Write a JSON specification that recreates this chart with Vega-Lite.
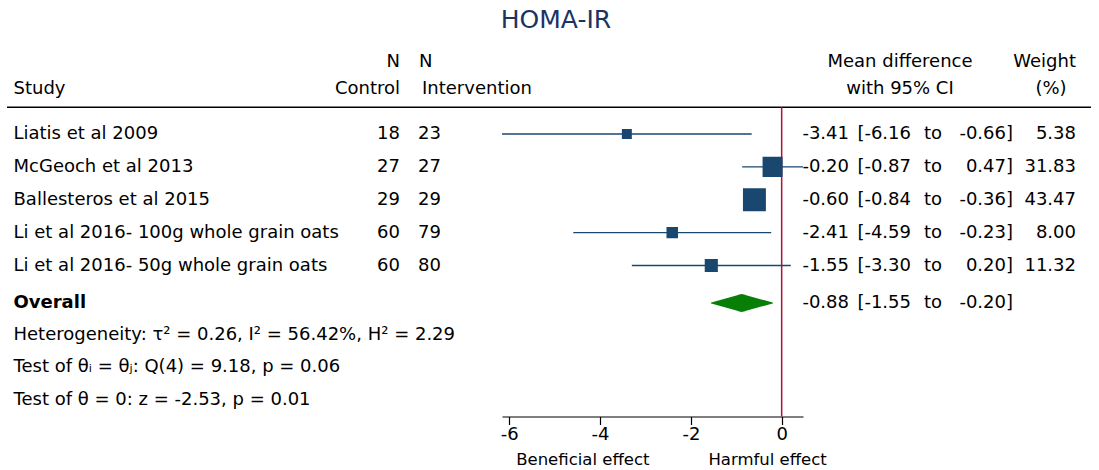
{
  "$schema": "https://vega.github.io/schema/vega-lite/v6.json",
  "background": "white",
  "padding": {"left": 6, "top": 8, "right": 9, "bottom": 0},
  "title": {"text": "HOMA-IR", "font": "DejaVu Sans", "fontSize": 25, "fontWeight": "normal", "color": "#1c3263", "anchor": "middle", "dx": 7, "offset": 10},
  "config": {
    "view": {"stroke": null},
    "font": "DejaVu Sans",
    "text": {"font": "DejaVu Sans", "fontSize": 18, "baseline": "middle", "color": "black"},
    "locale": {"number": {"decimal": ".", "thousands": ",", "grouping": [3], "currency": ["$", ""], "minus": "-"}}
  },
  "datasets": {
    "studies": [
      {"row": 1, "study": "Liatis et al 2009", "nc": 18, "ni": 23, "es": -3.41, "lo": -6.16, "hi": -0.66, "w": 5.38},
      {"row": 2, "study": "McGeoch et al 2013", "nc": 27, "ni": 27, "es": -0.20, "lo": -0.87, "hi": 0.47, "w": 31.83},
      {"row": 3, "study": "Ballesteros et al 2015", "nc": 29, "ni": 29, "es": -0.60, "lo": -0.84, "hi": -0.36, "w": 43.47},
      {"row": 4, "study": "Li et al 2016- 100g whole grain oats", "nc": 60, "ni": 79, "es": -2.41, "lo": -4.59, "hi": -0.23, "w": 8.00},
      {"row": 5, "study": "Li et al 2016- 50g whole grain oats", "nc": 60, "ni": 80, "es": -1.55, "lo": -3.30, "hi": 0.20, "w": 11.32}
    ],
    "overall": [
      {"row": 6, "study": "Overall", "es": -0.88, "lo": -1.55, "hi": -0.20}
    ],
    "notes": [
      {"row": 7, "note": "Heterogeneity: τ² = 0.26, I² = 56.42%, H² = 2.29"},
      {"row": 8, "note": "Test of θᵢ = θⱼ: Q(4) = 9.18, p = 0.06"},
      {"row": 9, "note": "Test of θ = 0: z = -2.53, p = 0.01"}
    ]
  },
  "spacing": 0,
  "bounds": "flush",
  "hconcat": [
    {
      "width": 393,
      "height": 373.5,
      "layer": [
        {"data": {"values": [{}]}, "mark": {"type": "rule", "color": "black", "strokeWidth": 1.5},
         "encoding": {"x": {"datum": 0, "scale": {"domain": [0, 1]}, "axis": null}, "x2": {"datum": 1},
                      "y": {"datum": 0.41, "axis": null, "scale": {"domain": [-1, 0, 1, 5, 6, 9], "range": [19.2, 45.8, 91, 222.5, 260, 356.5], "zero": false, "nice": false}}}},
        {"data": {"values": [{}]}, "mark": {"type": "text", "text": "Study", "align": "left", "dx": 6.5},
         "encoding": {"x": {"datum": 0, "scale": {"domain": [0, 1]}, "axis": null},
                      "y": {"datum": 0, "axis": null, "scale": {"domain": [-1, 0, 1, 5, 6, 9], "range": [19.2, 45.8, 91, 222.5, 260, 356.5], "zero": false, "nice": false}}}},
        {"data": {"values": [{}]}, "mark": {"type": "text", "text": "N", "align": "right"},
         "encoding": {"x": {"datum": 1, "scale": {"domain": [0, 1]}, "axis": null},
                      "y": {"datum": -1, "axis": null, "scale": {"domain": [-1, 0, 1, 5, 6, 9], "range": [19.2, 45.8, 91, 222.5, 260, 356.5], "zero": false, "nice": false}}}},
        {"data": {"values": [{}]}, "mark": {"type": "text", "text": "Control", "align": "right"},
         "encoding": {"x": {"datum": 1, "scale": {"domain": [0, 1]}, "axis": null},
                      "y": {"datum": 0, "axis": null, "scale": {"domain": [-1, 0, 1, 5, 6, 9], "range": [19.2, 45.8, 91, 222.5, 260, 356.5], "zero": false, "nice": false}}}},
        {"data": {"name": "studies"}, "mark": {"type": "text", "align": "left", "dx": 6.5},
         "encoding": {"x": {"datum": 0, "scale": {"domain": [0, 1]}, "axis": null},
                      "y": {"field": "row", "type": "quantitative", "axis": null, "scale": {"domain": [-1, 0, 1, 5, 6, 9], "range": [19.2, 45.8, 91, 222.5, 260, 356.5], "zero": false, "nice": false}},
                      "text": {"field": "study"}}},
        {"data": {"name": "studies"}, "mark": {"type": "text", "align": "right"},
         "encoding": {"x": {"datum": 1, "scale": {"domain": [0, 1]}, "axis": null},
                      "y": {"field": "row", "type": "quantitative", "axis": null, "scale": {"domain": [-1, 0, 1, 5, 6, 9], "range": [19.2, 45.8, 91, 222.5, 260, 356.5], "zero": false, "nice": false}},
                      "text": {"field": "nc"}}},
        {"data": {"name": "overall"}, "mark": {"type": "text", "align": "left", "dx": 6.5, "fontWeight": "bold"},
         "encoding": {"x": {"datum": 0, "scale": {"domain": [0, 1]}, "axis": null},
                      "y": {"field": "row", "type": "quantitative", "axis": null, "scale": {"domain": [-1, 0, 1, 5, 6, 9], "range": [19.2, 45.8, 91, 222.5, 260, 356.5], "zero": false, "nice": false}},
                      "text": {"field": "study"}}},
        {"data": {"name": "notes"}, "mark": {"type": "text", "align": "left", "dx": 6.5},
         "encoding": {"x": {"datum": 0, "scale": {"domain": [0, 1]}, "axis": null},
                      "y": {"field": "row", "type": "quantitative", "axis": null, "scale": {"domain": [-1, 0, 1, 5, 6, 9], "range": [19.2, 45.8, 91, 222.5, 260, 356.5], "zero": false, "nice": false}},
                      "text": {"field": "note"}}}
      ]
    },
    {
      "width": 102,
      "height": 373.5,
      "layer": [
        {"data": {"values": [{}]}, "mark": {"type": "rule", "color": "black", "strokeWidth": 1.5},
         "encoding": {"x": {"datum": 0, "scale": {"domain": [0, 1]}, "axis": null}, "x2": {"datum": 1},
                      "y": {"datum": 0.41, "axis": null, "scale": {"domain": [-1, 0, 1, 5, 6, 9], "range": [19.2, 45.8, 91, 222.5, 260, 356.5], "zero": false, "nice": false}}}},
        {"data": {"values": [{}]}, "mark": {"type": "text", "text": "N", "align": "left", "dx": 19},
         "encoding": {"x": {"datum": 0, "scale": {"domain": [0, 1]}, "axis": null},
                      "y": {"datum": -1, "axis": null, "scale": {"domain": [-1, 0, 1, 5, 6, 9], "range": [19.2, 45.8, 91, 222.5, 260, 356.5], "zero": false, "nice": false}}}},
        {"data": {"values": [{}]}, "mark": {"type": "text", "text": "Intervention", "align": "left", "dx": 22},
         "encoding": {"x": {"datum": 0, "scale": {"domain": [0, 1]}, "axis": null},
                      "y": {"datum": 0, "axis": null, "scale": {"domain": [-1, 0, 1, 5, 6, 9], "range": [19.2, 45.8, 91, 222.5, 260, 356.5], "zero": false, "nice": false}}}},
        {"data": {"name": "studies"}, "mark": {"type": "text", "align": "left", "dx": 18},
         "encoding": {"x": {"datum": 0, "scale": {"domain": [0, 1]}, "axis": null},
                      "y": {"field": "row", "type": "quantitative", "axis": null, "scale": {"domain": [-1, 0, 1, 5, 6, 9], "range": [19.2, 45.8, 91, 222.5, 260, 356.5], "zero": false, "nice": false}},
                      "text": {"field": "ni"}}}
      ]
    },
    {
      "width": 301,
      "height": 373.5,
      "resolve": {"scale": {"size": "independent"}},
      "layer": [
        {"data": {"values": [{}]}, "mark": {"type": "rule", "color": "black", "strokeWidth": 1.5},
         "encoding": {
           "x": {"datum": -6.16, "scale": {"domain": [-6.16, 0.47], "zero": false, "nice": false},
                 "axis": {"values": [-6, -4, -2, 0], "title": null, "grid": false, "domainColor": "black", "domainWidth": 1.2, "tickColor": "black", "tickWidth": 1.2, "tickSize": 8, "labelFont": "DejaVu Sans", "labelFontSize": 18, "labelColor": "black", "labelPadding": 1, "labelFlush": false, "labelOverlap": false}},
           "x2": {"datum": 0.47},
           "y": {"datum": 0.41, "axis": null, "scale": {"domain": [-1, 0, 1, 5, 6, 9], "range": [19.2, 45.8, 91, 222.5, 260, 356.5], "zero": false, "nice": false}}}},
        {"data": {"values": [{}]}, "mark": {"type": "rule", "color": "#b0103a", "strokeWidth": 1.5},
         "encoding": {"x": {"datum": 0},
                      "y": {"datum": 0.41, "axis": null, "scale": {"domain": [-1, 0, 1, 5, 6, 9], "range": [19.2, 45.8, 91, 222.5, 260, 356.5], "zero": false, "nice": false}},
                      "y2": {"datum": 9.53}}},
        {"data": {"name": "studies"}, "mark": {"type": "rule", "color": "#1a476f", "strokeWidth": 1.3},
         "encoding": {"x": {"field": "lo", "type": "quantitative"}, "x2": {"field": "hi"},
                      "y": {"field": "row", "type": "quantitative", "axis": null, "scale": {"domain": [-1, 0, 1, 5, 6, 9], "range": [19.2, 45.8, 91, 222.5, 260, 356.5], "zero": false, "nice": false}}}},
        {"data": {"name": "studies"}, "mark": {"type": "square", "color": "#1a476f", "filled": true, "opacity": 1, "stroke": "#1a476f", "strokeWidth": 2.9, "strokeJoin": "miter"},
         "encoding": {"x": {"field": "es", "type": "quantitative"},
                      "y": {"field": "row", "type": "quantitative", "axis": null, "scale": {"domain": [-1, 0, 1, 5, 6, 9], "range": [19.2, 45.8, 91, 222.5, 260, 356.5], "zero": false, "nice": false}},
                      "size": {"field": "w", "type": "quantitative", "scale": {"domain": [0, 50], "range": [0, 462]}, "legend": null}}},
        {"data": {"name": "overall"},
         "transform": [
           {"fold": ["lo", "es", "hi"], "as": ["pt", "v"]},
           {"calculate": "datum.pt === 'es' ? 1 : 0", "as": "half"}
         ],
         "mark": {"type": "trail", "color": "#077f07"},
         "encoding": {"x": {"field": "v", "type": "quantitative"},
                      "y": {"field": "row", "type": "quantitative", "axis": null, "scale": {"domain": [-1, 0, 1, 5, 6, 9], "range": [19.2, 45.8, 91, 222.5, 260, 356.5], "zero": false, "nice": false}},
                      "order": {"field": "v", "type": "quantitative"},
                      "size": {"field": "half", "type": "quantitative", "scale": {"domain": [0, 1], "range": [0, 18]}, "legend": null}}},
        {"data": {"values": [{}]}, "mark": {"type": "text", "text": "Beneficial effect", "align": "center", "fontSize": 16.5},
         "encoding": {"x": {"datum": -4.38},
                      "y": {"datum": 10.87, "axis": null, "scale": {"domain": [-1, 0, 1, 5, 6, 9], "range": [19.2, 45.8, 91, 222.5, 260, 356.5], "zero": false, "nice": false}}}},
        {"data": {"values": [{}]}, "mark": {"type": "text", "text": "Harmful effect", "align": "center", "fontSize": 16.5},
         "encoding": {"x": {"datum": -0.31},
                      "y": {"datum": 10.87, "axis": null, "scale": {"domain": [-1, 0, 1, 5, 6, 9], "range": [19.2, 45.8, 91, 222.5, 260, 356.5], "zero": false, "nice": false}}}}
      ]
    },
    {
      "width": 288,
      "height": 373.5,
      "layer": [
        {"data": {"values": [{}]}, "mark": {"type": "rule", "color": "black", "strokeWidth": 1.5},
         "encoding": {"x": {"datum": 0, "scale": {"domain": [0, 1]}, "axis": null}, "x2": {"datum": 1},
                      "y": {"datum": 0.41, "axis": null, "scale": {"domain": [-1, 0, 1, 5, 6, 9], "range": [19.2, 45.8, 91, 222.5, 260, 356.5], "zero": false, "nice": false}}}},
        {"data": {"values": [{}]}, "mark": {"type": "text", "text": "Mean difference", "align": "center", "dx": 97},
         "encoding": {"x": {"datum": 0, "scale": {"domain": [0, 1]}, "axis": null},
                      "y": {"datum": -1, "axis": null, "scale": {"domain": [-1, 0, 1, 5, 6, 9], "range": [19.2, 45.8, 91, 222.5, 260, 356.5], "zero": false, "nice": false}}}},
        {"data": {"values": [{}]}, "mark": {"type": "text", "text": "with 95% CI", "align": "center", "dx": 97},
         "encoding": {"x": {"datum": 0, "scale": {"domain": [0, 1]}, "axis": null},
                      "y": {"datum": 0, "axis": null, "scale": {"domain": [-1, 0, 1, 5, 6, 9], "range": [19.2, 45.8, 91, 222.5, 260, 356.5], "zero": false, "nice": false}}}},
        {"data": {"values": [{}]}, "mark": {"type": "text", "text": "Weight", "align": "right", "dx": 273},
         "encoding": {"x": {"datum": 0, "scale": {"domain": [0, 1]}, "axis": null},
                      "y": {"datum": -1, "axis": null, "scale": {"domain": [-1, 0, 1, 5, 6, 9], "range": [19.2, 45.8, 91, 222.5, 260, 356.5], "zero": false, "nice": false}}}},
        {"data": {"values": [{}]}, "mark": {"type": "text", "text": "(%)", "align": "center", "dx": 248},
         "encoding": {"x": {"datum": 0, "scale": {"domain": [0, 1]}, "axis": null},
                      "y": {"datum": 0, "axis": null, "scale": {"domain": [-1, 0, 1, 5, 6, 9], "range": [19.2, 45.8, 91, 222.5, 260, 356.5], "zero": false, "nice": false}}}},
        {"data": {"name": "studies"},
         "transform": [{"calculate": "'[' + format(datum.lo, '.2f')", "as": "lo_txt"}, {"calculate": "format(datum.hi, '.2f') + ']'", "as": "hi_txt"}],
         "encoding": {"y": {"field": "row", "type": "quantitative", "axis": null, "scale": {"domain": [-1, 0, 1, 5, 6, 9], "range": [19.2, 45.8, 91, 222.5, 260, 356.5], "zero": false, "nice": false}}},
         "layer": [
           {"mark": {"type": "text", "align": "right", "dx": 46},
            "encoding": {"x": {"datum": 0, "scale": {"domain": [0, 1]}, "axis": null}, "text": {"field": "es", "format": ".2f"}}},
           {"mark": {"type": "text", "align": "right", "dx": 108},
            "encoding": {"x": {"datum": 0, "scale": {"domain": [0, 1]}, "axis": null}, "text": {"field": "lo_txt"}}},
           {"mark": {"type": "text", "align": "left", "dx": 121, "text": "to"},
            "encoding": {"x": {"datum": 0, "scale": {"domain": [0, 1]}, "axis": null}}},
           {"mark": {"type": "text", "align": "right", "dx": 210},
            "encoding": {"x": {"datum": 0, "scale": {"domain": [0, 1]}, "axis": null}, "text": {"field": "hi_txt"}}},
           {"mark": {"type": "text", "align": "right", "dx": 273},
            "encoding": {"x": {"datum": 0, "scale": {"domain": [0, 1]}, "axis": null}, "text": {"field": "w", "format": ".2f"}}}
         ]},
        {"data": {"name": "overall"},
         "transform": [{"calculate": "'[' + format(datum.lo, '.2f')", "as": "lo_txt"}, {"calculate": "format(datum.hi, '.2f') + ']'", "as": "hi_txt"}],
         "encoding": {"y": {"field": "row", "type": "quantitative", "axis": null, "scale": {"domain": [-1, 0, 1, 5, 6, 9], "range": [19.2, 45.8, 91, 222.5, 260, 356.5], "zero": false, "nice": false}}},
         "layer": [
           {"mark": {"type": "text", "align": "right", "dx": 46},
            "encoding": {"x": {"datum": 0, "scale": {"domain": [0, 1]}, "axis": null}, "text": {"field": "es", "format": ".2f"}}},
           {"mark": {"type": "text", "align": "right", "dx": 108},
            "encoding": {"x": {"datum": 0, "scale": {"domain": [0, 1]}, "axis": null}, "text": {"field": "lo_txt"}}},
           {"mark": {"type": "text", "align": "left", "dx": 121, "text": "to"},
            "encoding": {"x": {"datum": 0, "scale": {"domain": [0, 1]}, "axis": null}}},
           {"mark": {"type": "text", "align": "right", "dx": 210},
            "encoding": {"x": {"datum": 0, "scale": {"domain": [0, 1]}, "axis": null}, "text": {"field": "hi_txt"}}}
         ]}
      ]
    }
  ]
}
